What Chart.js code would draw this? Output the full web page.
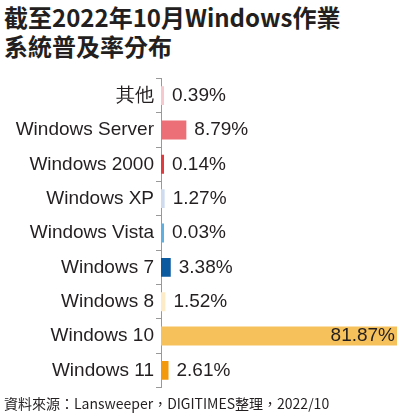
<!DOCTYPE html>
<html><head><meta charset="utf-8">
<script src="https://cdn.jsdelivr.net/npm/chart.js@4"></script>
<style>
body{margin:0;width:400px;height:417px;background:#fff;font-family:"Noto Sans CJK TC",sans-serif;position:relative;overflow:hidden}
#t{position:absolute;left:4px;top:2px;font-size:24px;font-weight:bold;line-height:29px;color:#231f20}
#f{position:absolute;left:4px;top:393px;font-size:14px;color:#231f20}
#c{position:absolute;left:0;top:65px;width:400px;height:336px}
</style></head><body>
<div id="t">截至2022年10月Windows作業<br>系統普及率分布</div>
<div id="c"><canvas id="cv"></canvas></div>
<div id="f">資料來源：Lansweeper，DIGITIMES整理，2022/10</div>
<script>
const categories=["其他","Windows Server","Windows 2000","Windows XP","Windows Vista","Windows 7","Windows 8","Windows 10","Windows 11"];
const values=[0.39,8.79,0.14,1.27,0.03,3.38,1.52,81.87,2.61];
const labels=["0.39%","8.79%","0.14%","1.27%","0.03%","3.38%","1.52%","81.87%","2.61%"];
const colors=["#f6c9cc","#ec6e77","#e33a3d","#cfdcf0","#5fb0e0","#0b5aa0","#fdebc8","#f6c15a","#f39a0c"];
const valLabels={id:"vl",afterDatasetsDraw(ch){const c=ch.ctx;const m=ch.getDatasetMeta(0);c.save();c.font="19px 'Liberation Sans',Arial";c.fillStyle="#231f20";c.textBaseline="middle";
m.data.forEach((b,i)=>{if(values[i]>50){c.textAlign="right";c.fillText(labels[i],b.x-2,b.y);}else{c.textAlign="left";c.fillText(labels[i],b.x+8,b.y);}});c.restore();}};
new Chart(document.getElementById("cv"),{type:"bar",data:{labels:categories,datasets:[{data:values,backgroundColor:colors,barPercentage:0.55,categoryPercentage:1,minBarLength:3}]},
options:{indexAxis:"y",responsive:true,maintainAspectRatio:false,animation:false,layout:{padding:{left:0,right:3,top:0,bottom:0}},
plugins:{legend:{display:false},tooltip:{enabled:false}},
scales:{x:{display:false,min:0,max:81.87},y:{afterFit(s){s.width=161;},grid:{display:true,drawOnChartArea:false,offset:true,tickLength:5,color:"#999"},border:{display:true,color:"#999"},ticks:{color:"#231f20",font:{size:19,family:"'Liberation Sans',Arial"},padding:2}}}},plugins:[valLabels]});
</script></body></html>
